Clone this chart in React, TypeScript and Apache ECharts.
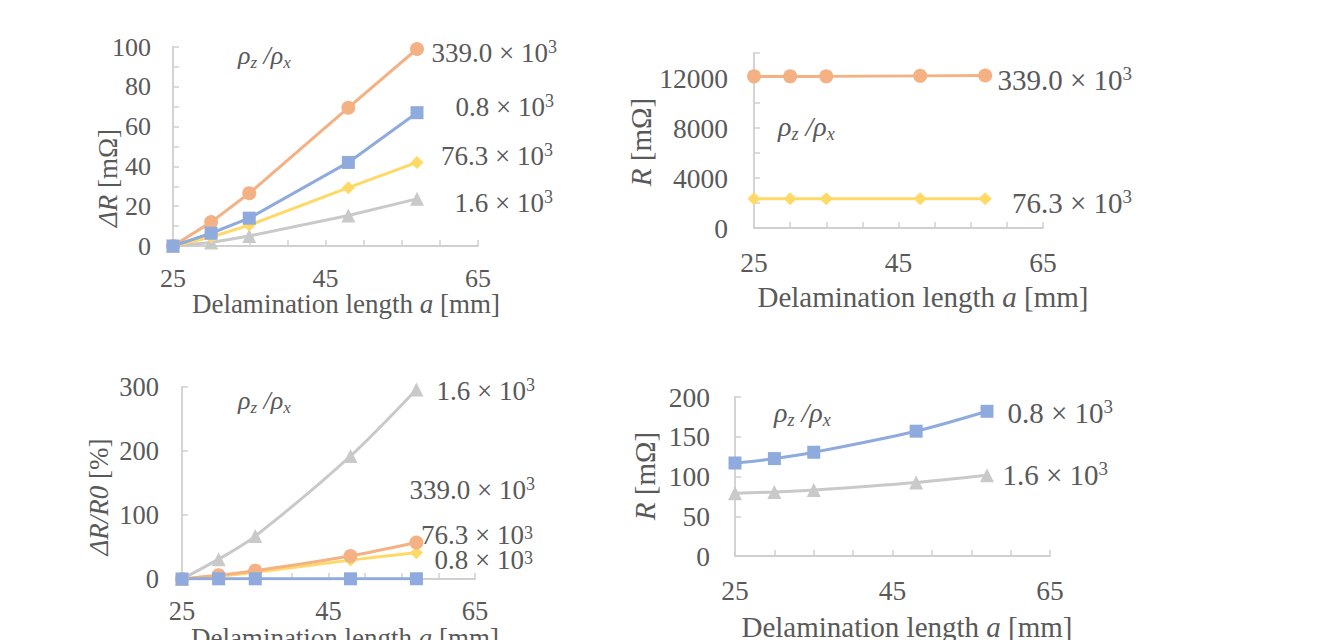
import React, { useEffect, useRef } from "react";
import * as echarts from "echarts";

// ---- data ----
const delamLength = [25, 30, 35, 48, 57];

// Panel (a): ΔR [mΩ]
const dR_339 = [0, 12, 26.5, 69.5, 99];
const dR_08 = [0, 6.4, 14, 42, 67];
const dR_763 = [0, 4.5, 10.5, 29.3, 42];
const dR_16 = [0, 1.8, 5, 15.3, 23.7];

// Panel (b): R [mΩ]
const R_339 = [12130, 12130, 12130, 12170, 12200];
const R_763 = [2350, 2350, 2350, 2350, 2350];

// Panel (c): ΔR/R0 [%]
const pct_16 = [0, 31, 67, 192, 296];
const pct_339 = [0, 6, 13, 36, 57];
const pct_763 = [0, 4.5, 10.5, 29.5, 41];
const pct_08 = [0, 0.3, 0.3, 0.3, 0.4];

// Panel (d): R [mΩ]
const Rb_08 = [117, 122.5, 130.5, 157, 182];
const Rb_16 = [79, 80.5, 83, 92.5, 101.5];

const ratioLabels = {
  r339: "339.0 × 10{sup|3}",
  r08: "0.8 × 10{sup|3}",
  r763: "76.3 × 10{sup|3}",
  r16: "1.6 × 10{sup|3}",
};

const FONT = "'Liberation Serif', 'Times New Roman', serif";
const TXT = "#595959";
const AX = "#D0D0D0";
const C_OR = "#F4B183";
const C_BL = "#8FAADC";
const C_YE = "#FFD966";
const C_GR = "#C9C9C9";

function xAxis(gi: number, fs: number, margin: number) {
  return {
    type: "value",
    gridIndex: gi,
    min: 25,
    max: 65,
    interval: 5,
    axisLine: { show: true, lineStyle: { color: AX, width: 1.8 } },
    axisTick: { show: true, inside: true, length: 6, lineStyle: { color: AX, width: 1.5 } },
    splitLine: { show: false },
    axisLabel: {
      color: TXT,
      fontFamily: FONT,
      fontSize: fs,
      margin,
      formatter: (v: number) => ((v - 25) % 20 === 0 ? String(v) : ""),
    },
  };
}

function yAxis(gi: number, max: number, interval: number, labelEvery: number, fs: number, margin: number) {
  return {
    type: "value",
    gridIndex: gi,
    min: 0,
    max,
    interval,
    axisLine: { show: true, lineStyle: { color: AX, width: 1.8 } },
    axisTick: { show: true, inside: true, length: 6, lineStyle: { color: AX, width: 1.5 } },
    splitLine: { show: false },
    axisLabel: {
      color: TXT,
      fontFamily: FONT,
      fontSize: fs,
      margin,
      formatter: (v: number) => (v % labelEvery === 0 ? String(v) : ""),
    },
  };
}

function line(idx: number, values: number[], color: string, symbol: string, size: number, smooth: number | boolean) {
  return {
    type: "line",
    xAxisIndex: idx,
    yAxisIndex: idx,
    data: delamLength.map((x, i) => [x, values[i]]),
    symbol,
    symbolSize: size,
    showAllSymbol: true,
    smooth,
    lineStyle: { color, width: 3 },
    itemStyle: { color },
  };
}

function text(x: number, y: number, t: string, size: number, align = "left", rotation = 0, lh?: number) {
  const sup = Math.round(size * 0.66);
  const base = lh || size + 4;
  return {
    type: "text",
    x,
    y,
    rotation,
    style: {
      text: t,
      fontSize: size,
      fontFamily: FONT,
      fill: TXT,
      lineHeight: base,
      align,
      verticalAlign: "middle",
      textAlign: align,
      textVerticalAlign: "middle",
      rich: {
        i: { fontStyle: "italic", fontSize: size, fontFamily: FONT, fill: TXT, lineHeight: base },
        sup: { fontSize: sup, fontFamily: FONT, fill: TXT, lineHeight: sup, verticalAlign: "top" },
      },
    },
  };
}

function rho(x: number, y: number, size: number) {
  const sub = Math.round(size * 0.65);
  return {
    type: "text",
    x,
    y,
    style: {
      text: "{r|ρ}{s|z}{r| /ρ}{s|x}",
      fontSize: size,
      fontFamily: FONT,
      fill: TXT,
      align: "left",
      verticalAlign: "middle",
      textAlign: "left",
      textVerticalAlign: "middle",
      rich: {
        r: { fontStyle: "italic", fontSize: size, fontFamily: FONT, fill: TXT, lineHeight: size + 6, verticalAlign: "middle" },
        s: { fontStyle: "italic", fontSize: sub, fontFamily: FONT, fill: TXT, lineHeight: sub, verticalAlign: "bottom" },
      },
    },
  };
}

export default function App() {
  const ref = useRef<HTMLDivElement>(null);
  useEffect(() => {
    if (!ref.current) return;
    const chart = echarts.init(ref.current, undefined, { renderer: "svg" });
    const option = {
      animation: false,
      backgroundColor: "#ffffff",
      grid: [
        { left: 173, top: 47, width: 305, height: 199 },
        { left: 754, top: 53, width: 289, height: 175 },
        { left: 182, top: 387, width: 293, height: 192 },
        { left: 735, top: 397, width: 315, height: 159 },
      ],
      xAxis: [xAxis(0, 26, 19), xAxis(1, 27.5, 20), xAxis(2, 26.5, 18), xAxis(3, 27.5, 20)],
      yAxis: [
        yAxis(0, 100, 10, 20, 26, 22),
        yAxis(1, 14000, 2000, 4000, 27.5, 26),
        yAxis(2, 300, 100, 100, 26.5, 23),
        yAxis(3, 200, 50, 50, 27.5, 25),
      ],
      series: [
        line(0, dR_16, C_GR, "triangle", 14, false),
        line(0, dR_763, C_YE, "diamond", 13, false),
        line(0, dR_339, C_OR, "circle", 14, false),
        line(0, dR_08, C_BL, "rect", 13, false),

        line(1, R_763, C_YE, "diamond", 13, false),
        line(1, R_339, C_OR, "circle", 14, false),

        line(2, pct_16, C_GR, "triangle", 14, 0.3),
        line(2, pct_763, C_YE, "diamond", 13, 0.3),
        line(2, pct_339, C_OR, "circle", 14, 0.3),
        line(2, pct_08, C_BL, "rect", 13, 0.3),

        line(3, Rb_16, C_GR, "triangle", 14, 0.3),
        line(3, Rb_08, C_BL, "rect", 13, 0.3),
      ],
      graphic: [
        // panel a
        text(557, 53, ratioLabels.r339, 27, "right"),
        text(554, 107, ratioLabels.r08, 27, "right"),
        text(553, 156, ratioLabels.r763, 27, "right"),
        text(553, 203, ratioLabels.r16, 27, "right"),
        rho(238, 55, 26),
        text(108, 178, "{i|ΔR} [mΩ]", 27, "center", Math.PI / 2),
        text(346, 304, "Delamination length {i|a} [mm]", 27, "center", 0, 26),
        // panel b
        text(1132, 80, ratioLabels.r339, 29, "right"),
        text(1132, 203, ratioLabels.r763, 29, "right"),
        rho(778, 126, 28),
        text(641, 142, "{i|R} [mΩ]", 29, "center", Math.PI / 2),
        text(923, 297, "Delamination length {i|a} [mm]", 29, "center", 0, 28),
        // panel c
        text(535, 391, ratioLabels.r16, 27, "right"),
        text(535, 490, ratioLabels.r339, 27, "right"),
        text(533, 535, ratioLabels.r763, 27, "right", 0, 22),
        text(533, 560, ratioLabels.r08, 27, "right", 0, 22),
        rho(238, 400, 26),
        text(99, 497, "{i|ΔR/R0} [%]", 27, "center", Math.PI / 2),
        text(345, 638, "Delamination length {i|a} [mm]", 27, "center", 0, 26),
        // panel d
        text(1113, 413, ratioLabels.r08, 29, "right"),
        text(1108, 475, ratioLabels.r16, 29, "right"),
        rho(774, 412, 28),
        text(645, 476, "{i|R} [mΩ]", 29, "center", Math.PI / 2),
        text(907, 627, "Delamination length {i|a} [mm]", 29, "center", 0, 28),
      ],
    };
    chart.setOption(option as any);
    return () => chart.dispose();
  }, []);
  return (
    <div
      ref={ref}
      style={{ position: "fixed", left: 0, top: 0, width: 1336, height: 640, background: "#fff" }}
    />
  );
}
